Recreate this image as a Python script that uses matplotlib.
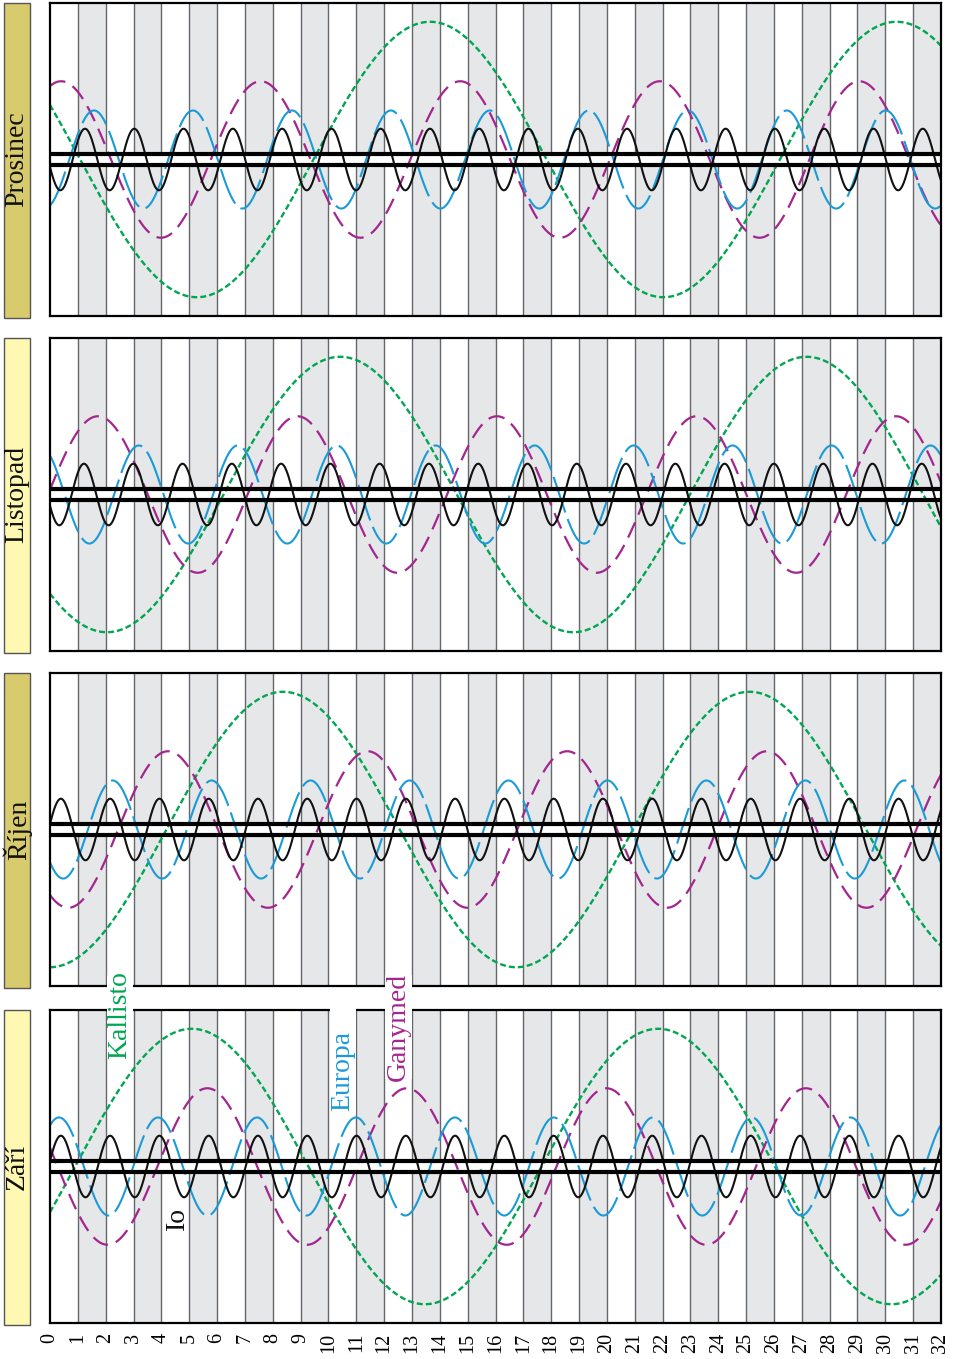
import numpy as np
import matplotlib
matplotlib.use("Agg")
import matplotlib.pyplot as plt
from matplotlib.patches import Rectangle

plt.rcParams['font.family'] = ['Liberation Serif', 'DejaVu Serif']
plt.rcParams['lines.scale_dashes'] = False

# Months, top to bottom
months = ["Prosinec", "Listopad", "Říjen", "Září"]
month_colors = ["#d8cb6d", "#fff8b2", "#d8cb6d", "#fff8b2"]

# Moons: names, orbit radii (Jupiter radii), synodic periods (days)
moons = ["Io", "Europa", "Ganymed", "Kallisto"]
radii = [5.9, 9.4, 15.0, 26.4]
periods = [1.7699, 3.5541, 7.1663, 16.7535]

# Day of the month at which each moon is at its greatest upper elongation
peak_prosinec = [1.257, 1.58, 0.40, 13.65]
peak_listopad = [1.22, 3.19, 1.72, 10.42]
peak_rijen = [0.39, 2.25, 4.24, 8.37]
peak_zari = [0.39, 0.325, 5.65, 5.09]
peaks = [peak_prosinec, peak_listopad, peak_rijen, peak_zari]

days = list(range(0, 33))

colors = ["#111111", "#1a9bd7", "#a3268f", "#00a651"]
styles = ["-", (0, (27, 5)), (0, (12, 6)), (0, (4.3, 2.2))]
widths = [1.5, 1.5, 1.6, 1.7]

W, H = 958, 1359
fig = plt.figure(figsize=(W / 100, H / 100), dpi=100)


def fx(x):
    return x / W


def fy(y):
    return 1 - y / H


panel_tops = [3, 338, 673, 1010]
panel_h = 313
left, right = 50, 941

t = np.linspace(0, 32, 4000)
axes = []
for i, month in enumerate(months):
    top = panel_tops[i]
    ax = fig.add_axes([fx(left), fy(top + panel_h), fx(right - left), panel_h / H])
    axes.append(ax)
    ax.set_xlim(0, 32)
    ax.set_ylim(-30, 30)
    for d in range(1, 32, 2):
        ax.axvspan(d, d + 1, color="#e6e7e9", lw=0, zorder=0)
    for d in range(1, 32):
        ax.axvline(d, color="#66676a", lw=1.0, zorder=1)
    # Jupiter's disk
    ax.axhspan(-1, 1, color="white", lw=0, zorder=1.5)
    for k in range(4):
        y = radii[k] * np.cos(2 * np.pi * (t - peaks[i][k]) / periods[k])
        ax.plot(t, y, color=colors[k], lw=widths[k], linestyle=styles[k],
                zorder=2 + (3 - k) * 0.1, solid_capstyle="butt", dash_capstyle="butt")
    ax.axhline(1, color="black", lw=3.0, zorder=3)
    ax.axhline(-1, color="black", lw=3.0, zorder=3)
    ax.set_yticks([])
    for s in ax.spines.values():
        s.set_linewidth(1.6)
        s.set_color("black")
    if i == len(months) - 1:
        ax.set_xticks(days)
        ax.set_xticklabels([str(d) for d in days], rotation=90, fontsize=14.5)
        ax.tick_params(axis="x", length=0, pad=7)
    else:
        ax.set_xticks([])

    # Month label box
    fig.patches.append(Rectangle((fx(4), fy(top + panel_h + 2)), fx(26), (panel_h + 2) / H,
                                 transform=fig.transFigure, facecolor=month_colors[i],
                                 edgecolor="#555555", lw=1.0, zorder=1))
    fig.text(fx(17), fy(top + panel_h / 2), month, rotation=90, ha="center", va="center",
             fontsize=20, color="#111111")

# Moon names on the bottom panel
label_boxes = [(107, 975, 26, 82), (330, 1008, 26, 106), (385, 975, 27, 104)]
for (x0, y0, w, h) in label_boxes:
    fig.patches.append(Rectangle((fx(x0), fy(y0 + h)), fx(w), h / H, transform=fig.transFigure,
                                 facecolor="white", edgecolor="none", zorder=5))
fig.text(fx(120), fy(1015), "Kallisto", rotation=90, ha="center", va="center",
         fontsize=20, color=colors[3], zorder=6)
fig.text(fx(343), fy(1071), "Europa", rotation=90, ha="center", va="center",
         fontsize=20, color=colors[1], zorder=6)
fig.text(fx(398), fy(1027), "Ganymed", rotation=90, ha="center", va="center",
         fontsize=20, color=colors[2], zorder=6)
fig.text(fx(177), fy(1219), "Io", rotation=90, ha="center", va="center",
         fontsize=20, color="#111111", zorder=6)

fig.savefig("out.png", dpi=100)
